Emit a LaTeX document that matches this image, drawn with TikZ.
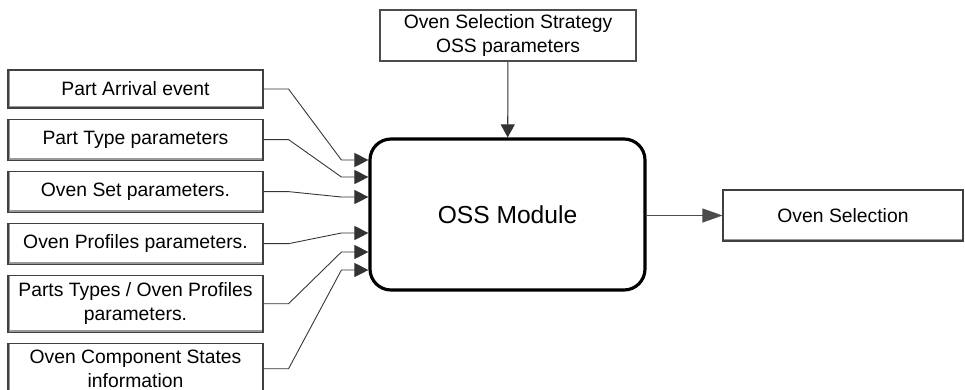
\documentclass[tikz,border=0pt]{standalone}
\usepackage{fontspec}
\setmainfont{Liberation Sans}
\usepackage{tikz}
\usetikzlibrary{arrows.meta, positioning, calc}

\begin{document}
\begin{tikzpicture}[
      inbox/.style={draw=black!75, line width=0.6pt, align=center,
                    inner sep=2pt, minimum width=5.1cm,
                    font=\fontsize{11}{13.5}\selectfont,
                    path picture={\draw[black!40, line width=2.6pt]
                      (path picture bounding box.north west) --
                      (path picture bounding box.south west) --
                      (path picture bounding box.south east);}},
      plainbox/.style={draw=black!70, line width=0.6pt, align=center,
                       inner sep=2pt, font=\fontsize{11}{13.5}\selectfont},
      module/.style={draw, line width=1.8pt, rounded corners=0.42cm,
                     minimum width=5.5cm, minimum height=3.02cm,
                     font=\fontsize{14}{16}\selectfont},
      feed/.style={black!80, line width=0.5pt,
                   -{Triangle[length=2.8mm,width=2.8mm]}},
      node distance=0.2cm]
    \useasboundingbox (0,0) rectangle (19.3,-7.78);
    % inputs on the left
    \node[inbox, minimum height=0.76cm] (in1) at (2.71,-1.78) {Part Arrival event};
    \node[inbox, minimum height=0.82cm, below=of in1] (in2) {Part Type parameters};
    \node[inbox, minimum height=0.82cm, below=of in2] (in3) {Oven Set parameters.};
    \node[inbox, minimum height=0.82cm, below=of in3] (in4) {Oven Profiles parameters.};
    \node[inbox, minimum height=1.14cm, below=of in4] (in5) {Parts Types / Oven Profiles\\parameters.};
    \node[inbox, minimum height=1.02cm, below=of in5] (in6) {Oven Component States\\information};
    % module, strategy and result
    \node[module] (oss) at (10.15,-4.29) {OSS Module};
    \node[plainbox, minimum width=5.12cm, minimum height=1.02cm] (strat) at (10.16,-0.71)
      {Oven Selection Strategy\\OSS parameters};
    \node[inbox, minimum height=1.02cm, minimum width=4.8cm, path picture={\draw[black!40, line width=2.6pt]
        (path picture bounding box.south west) -- (path picture bounding box.south east);}]
      (sel) at (16.86,-4.31) {Oven Selection};
    \foreach \src/\dy in {in1/1.09, in2/0.75, in3/0.35, in4/-0.37, in5/-0.75, in6/-1.11}
      \draw[feed] (\src.east) -- ++(0.5,0) -- ($(oss.west)+(-0.54,\dy)$)
        -- ([yshift=\dy cm]oss.west);
    \draw[black!80, line width=0.6pt, -{Triangle[length=2.6mm,width=2.8mm]}] (strat) -- (oss);
    \draw[black!70, line width=0.5pt, -{Triangle[length=4mm,width=2.8mm]}] (oss.east |- sel) -- (sel);
  \end{tikzpicture}
\end{document}
